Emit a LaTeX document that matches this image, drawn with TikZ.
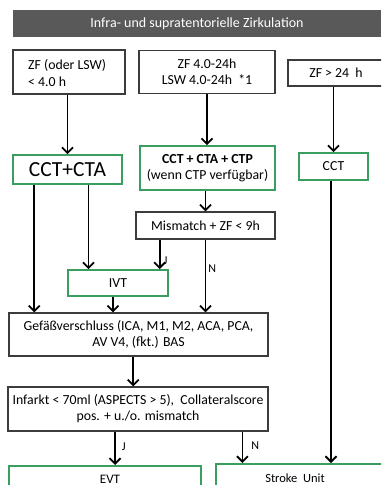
\documentclass[tikz,border=0pt]{standalone}
\usepackage{fontspec}
\setmainfont{Carlito}
\usetikzlibrary{arrows.meta,calc}
\definecolor{hdr}{HTML}{595959}
\definecolor{gbox}{HTML}{3A9E5F}
\definecolor{kbox}{HTML}{3C3C3C}
\tikzset{
  bx/.style={draw=kbox,line width=1.2pt,fill=white,inner sep=0pt,align=center,font=\fontsize{13.8}{16}\selectfont},
  gbx/.style={draw=gbox,line width=1.8pt,fill=white,inner sep=0pt,align=center,font=\fontsize{13.8}{16}\selectfont},
  arr/.style={line width=1.8pt,-{Straight Barb[length=5.5pt,width=11pt,line width=1.8pt]}},
  lbl/.style={font=\fontsize{12}{13}\selectfont,inner sep=0pt},
}
\begin{document}
\begin{tikzpicture}[x=1pt,y=-1pt]
\useasboundingbox (0,0) rectangle (381,485);
\clip (0,0) rectangle (381,485);
\fill[white] (0,0) rectangle (381,485);
% header
\node[fill=hdr,minimum width=368pt,minimum height=27pt,inner sep=0pt,text=white,font=\fontsize{14}{15}\selectfont] (hd) at (197,23.5) {Infra- und supratentorielle Zirkulation};
% top row
\node[bx,minimum width=112pt,minimum height=44pt] (b1) at (69,72) {};
\node[font=\fontsize{13.8}{16.5}\selectfont,align=left,anchor=west,inner sep=0pt] (b1t) at (28,73) {ZF (oder LSW)\\< 4.0 h};
\node[bx,minimum width=136pt,minimum height=43pt,font=\fontsize{13.8}{16.5}\selectfont] (b2) at (207,72) {ZF 4.0-24h\\LSW 4.0-24h\ \ *1};
\node[bx,minimum width=96pt,minimum height=26pt] (b3) at (336,73) {ZF > 24\ \ h};
% second row
\node[gbx,minimum width=109pt,minimum height=29pt,font=\fontsize{21.5}{22}\selectfont] (g1) at (67.5,169.5) {CCT+CTA};
\node[gbx,minimum width=135pt,minimum height=44pt,font=\fontsize{13.8}{16.5}\selectfont] (g2) at (207.5,168) {\textbf{CCT + CTA + CTP}\\(wenn CTP verfügbar)};
\node[gbx,minimum width=69pt,minimum height=27pt] (g3) at (333.5,166.5) {CCT};
% mismatch
\node[bx,minimum width=139pt,minimum height=27pt] (m) at (205.5,225.5) {Mismatch + ZF < 9h};
% IVT
\node[gbx,minimum width=100pt,minimum height=26pt] (ivt) at (118,283) {IVT};
% Gefaess
\node[bx,minimum width=259pt,minimum height=43pt] (gef) at (138.5,334.5) {Gefäßverschluss (ICA, M1, M2, ACA, PCA,\\AV V4, (fkt.) BAS};
% Infarkt
\node[bx,minimum width=260pt,minimum height=44pt] (inf) at (138,409) {Infarkt < 70ml (ASPECTS > 5),\ \ Collateralscore\\pos. + u./o. mismatch};
% bottom
\node[gbx,minimum width=192pt,minimum height=40pt,anchor=north west] (evt) at (8,465) {};
\node[font=\fontsize{13}{14}\selectfont,inner sep=0pt] (evtt) at (110,479) {EVT};
\node[gbx,minimum width=170pt,minimum height=40pt,anchor=north west] (su) at (215,463) {};
\node[font=\fontsize{12.5}{14}\selectfont,inner sep=0pt] (sut) at (295,478) {Stroke\ \ Unit};
% arrows
\draw[arr] (b1.south -| g1.north) -- (g1.north);
\draw[arr] (b2.south) -- (b2.south |- g2.north);
\draw[arr] (g3.north |- b3.south) -- (g3.north);
\draw[arr] (g2.south -| m.north) -- (m.north);
\coordinate (g1a) at ($(g1.south west)!0.2!(g1.south east)$);
\coordinate (g1b) at ($(g1.south west)!0.69!(g1.south east)$);
\draw[arr] (g1a) -- (g1a |- gef.north);
\draw[arr] (g1b) -- (g1b |- ivt.north);
\coordinate (ma) at ($(m.south west)!0.173!(m.south east)$);
\draw[arr] (ma) -- (ma |- ivt.north) node[lbl,pos=0.72,right=3pt] (lj1) {J};
\draw[arr] (m.south) -- (m.south |- gef.north) node[lbl,pos=0.4,right=2pt] (ln1) {N};
\coordinate (ia) at ($(ivt.south west)!0.45!(ivt.south east)$);
\draw[arr] (ia) -- (ia |- gef.north);
\coordinate (ga) at ($(gef.south west)!0.48!(gef.south east)$);
\draw[arr] (ga) -- (ga |- inf.north);
\coordinate (ia1) at ($(inf.south west)!0.412!(inf.south east)$);
\coordinate (ia2) at ($(inf.south west)!0.9!(inf.south east)$);
\draw[arr] (ia1) -- (ia1 |- evt.north) node[lbl,pos=0.45,right=6pt] (lj2) {J};
\draw[arr] (ia2) -- (ia2 |- su.north) node[lbl,pos=0.45,right=8pt] (ln2) {N};
\coordinate (g3s) at ([xshift=-2.5pt]g3.south);
\draw[arr] (g3s) -- (g3s |- su.north);
\end{tikzpicture}
\end{document}
